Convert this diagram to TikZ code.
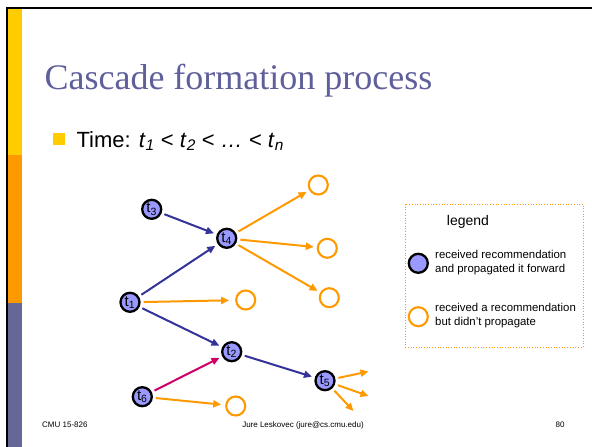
\documentclass[tikz,border=0pt]{standalone}
\usepackage{fontspec}
\setmainfont{Liberation Serif}
\setsansfont{Liberation Sans}
\usepackage{xcolor}
\usetikzlibrary{arrows.meta}

\definecolor{baryellow}{RGB}{255,204,0}
\definecolor{barorange}{RGB}{255,153,0}
\definecolor{barpurple}{RGB}{102,102,153}
\definecolor{titleblue}{RGB}{95,95,155}
\definecolor{nodefill}{RGB}{153,153,255}
\definecolor{edgeblue}{RGB}{51,51,153}
\definecolor{edgered}{RGB}{204,0,102}

\begin{document}
\begin{tikzpicture}[x=1pt, y=-1pt, font=\sffamily,
  active/.style={circle, draw=black, line width=2.3pt, fill=nodefill,
                 minimum size=19pt, inner sep=0pt,
                 font=\sffamily\fontsize{15}{15}\selectfont},
  passive/.style={circle, draw=barorange, line width=2.1pt,
                  minimum size=19pt, inner sep=0pt},
  fwd/.style={draw=edgeblue, line width=2pt,
              -{Triangle[length=8pt,width=7pt]},
              shorten <=3pt, shorten >=3pt},
  leak/.style={fwd, draw=barorange},
  trigger/.style={fwd, draw=edgered}]
  \useasboundingbox (0,0) rectangle (592,447);

  % slide frame
  \fill[baryellow] (8,8) rectangle (22,155);
  \fill[barorange] (8,155) rectangle (22,303);
  \fill[barpurple] (8,303) rectangle (22,447);
  \draw[line width=2pt] (7,447) -- (7,7.8) -- (592,7.8);

  % title and bullet
  \node[anchor=base west, text=titleblue, font=\rmfamily\fontsize{36}{36}\selectfont]
    (title) at (41,89) {Cascade formation process};
  \fill[baryellow] (53,133) rectangle (65,145);
  \node[anchor=base west, font=\sffamily\fontsize{22}{22}\selectfont] (time) at (73,147)
    {Time: \textit{t}\textsubscript{\itshape 1} {<} \textit{t}\textsubscript{\itshape 2} {<}
     \textit{…} {<} \textit{t}\textsubscript{\itshape n}};

  % cascade nodes
  \node[active] (t3) at (151.7,209.3) {t\textsubscript{3}};
  \node[active] (t4) at (226.7,238.3) {t\textsubscript{4}};
  \node[active] (t1) at (130,302.3) {t\textsubscript{1}};
  \node[active] (t2) at (231.7,351.7) {t\textsubscript{2}};
  \node[active] (t6) at (142.3,396.7) {t\textsubscript{6}};
  \node[active] (t5) at (325,380.7) {t\textsubscript{5}};

  \node[passive] (o1) at (318.3,185) {};
  \node[passive] (o2) at (327.3,248.3) {};
  \node[passive] (o3) at (329.3,297.7) {};
  \node[passive] (o4) at (245.7,300) {};
  \node[passive] (o5) at (235.7,406) {};

  \coordinate (e1) at (368.5,371.5);
  \coordinate (e2) at (368.5,396);
  \coordinate (e3) at (353.5,411);

  % edges
  \draw[fwd] (t3) -- (t4);
  \draw[fwd] (t1) -- (t4);
  \draw[fwd] (t1) -- (t2);
  \draw[fwd] (t2) -- (t5);
  \draw[trigger] (t6) -- (t2);
  \draw[leak] (t4) -- (o1);
  \draw[leak] (t4) -- (o2);
  \draw[leak] (t4) -- (o3);
  \draw[leak, shorten >=6pt] (t1) -- (o4);
  \draw[leak, shorten >=4pt] (t6) -- (o5);
  \draw[leak, shorten >=0pt] (t5) -- (e1);
  \draw[leak, shorten >=0pt] (t5) -- (e2);
  \draw[leak, shorten >=0pt] (t5) -- (e3);

  % legend
  \draw[barorange, dotted, line width=0.7pt] (405,204) rectangle (583,347);
  \node[font=\sffamily\fontsize{14}{14}\selectfont] (legtitle) at (468,222) {legend};
  \node[active] (legact) at (418.3,263.3) {};
  \node[passive] (legpas) at (418.3,316.7) {};
  \node[anchor=west, align=left, inner sep=0pt, font=\sffamily\fontsize{11.4}{14}\selectfont]
    (legacttext) at (435,262.5) {received recommendation\\and propagated it forward};
  \node[anchor=west, align=left, inner sep=0pt, font=\sffamily\fontsize{11.4}{13.5}\selectfont]
    (legpastext) at (435,315.5) {received a recommendation\\but didn't propagate};

  % footer
  \node[anchor=base west, inner sep=0pt, font=\sffamily\fontsize{8}{8}\selectfont]
    (course) at (42,427) {CMU 15-826};
  \node[anchor=base, inner sep=0pt, font=\sffamily\fontsize{8}{8}\selectfont]
    (author) at (303,427) {Jure Leskovec (jure@cs.cmu.edu)};
  \node[anchor=base, inner sep=0pt, font=\sffamily\fontsize{8}{8}\selectfont]
    (page) at (560,427) {80};
\end{tikzpicture}
\end{document}
